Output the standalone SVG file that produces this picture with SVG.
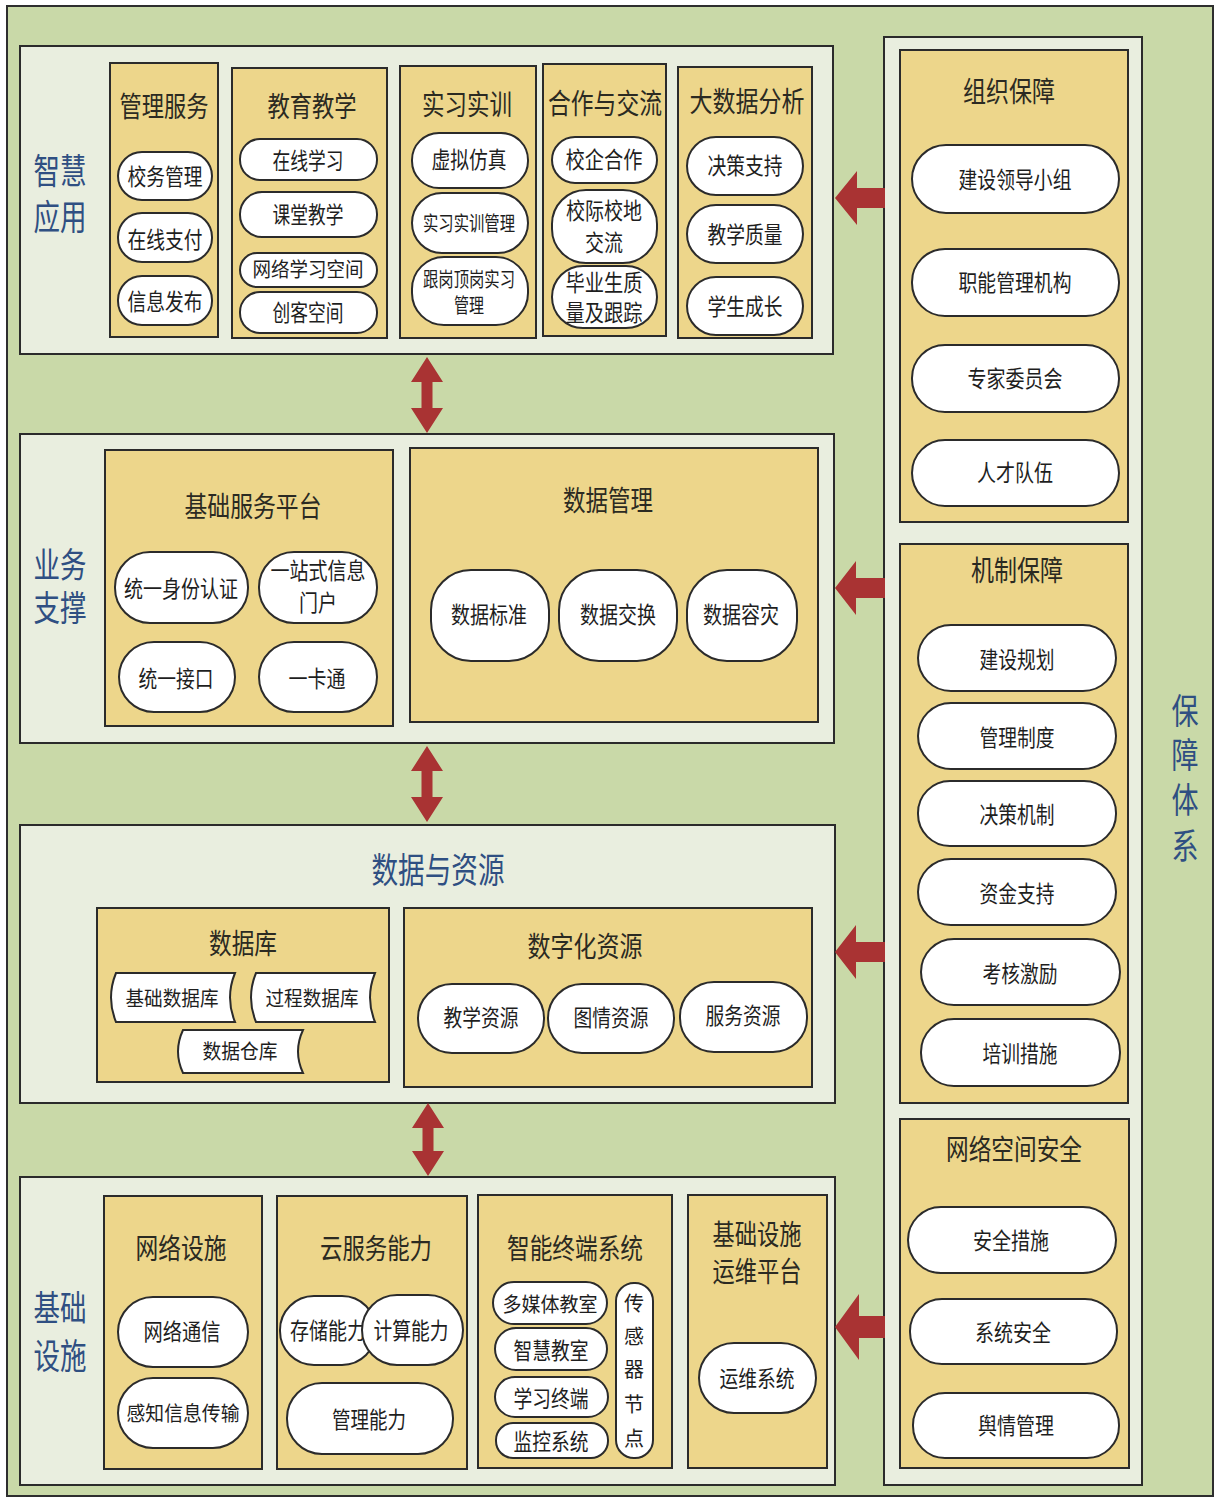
<svg xmlns="http://www.w3.org/2000/svg" width="1215" height="1499" viewBox="0 0 1215 1499">
<style>
.bg{fill:#c9d9a8;stroke:#2e2e2e;stroke-width:2}
.panel{fill:#e9eedf;stroke:#2b2b2b;stroke-width:2}
.box{fill:#edd68b;stroke:#2b2b2b;stroke-width:2}
.pill{fill:#ffffff;stroke:#2b2b2b;stroke-width:2}
text{font-family:"Noto Sans CJK SC","Noto Sans",sans-serif;text-anchor:middle;dominant-baseline:central}
.lbl{fill:#2f4f82;font-size:35px}
.ttl{fill:#2b2a22;font-size:28px}
.t{fill:#1e1e1e;font-size:23px}
.s{fill:#1e1e1e;font-size:20px}
.arr{fill:#a93333}
</style>
<rect class="bg" x="7" y="6" width="1206" height="1490"/>

<!-- 智慧应用 -->
<g id="layer-app">
<rect class="panel" x="20" y="46" width="813" height="308"/>
<text class="lbl" x="60" y="168" textLength="53" lengthAdjust="spacingAndGlyphs">智慧</text>
<text class="lbl" x="60" y="214" textLength="53" lengthAdjust="spacingAndGlyphs">应用</text>
</g>
<g id="mgmt-service">
<rect class="box" x="110" y="63" width="108" height="274"/>
<text class="ttl" x="164" y="105" textLength="89" lengthAdjust="spacingAndGlyphs">管理服务</text>
<rect class="pill" x="118" y="152" width="94" height="48" rx="24"/>
<text class="t" x="165" y="175" textLength="75" lengthAdjust="spacingAndGlyphs">校务管理</text>
<rect class="pill" x="118" y="213" width="94" height="49" rx="24"/>
<text class="t" x="165" y="238" textLength="75" lengthAdjust="spacingAndGlyphs">在线支付</text>
<rect class="pill" x="118" y="276" width="94" height="49" rx="24"/>
<text class="t" x="165" y="300" textLength="75" lengthAdjust="spacingAndGlyphs">信息发布</text>
</g>
<g id="edu-teach">
<rect class="box" x="232" y="68" width="155" height="270"/>
<text class="ttl" x="312" y="105" textLength="89" lengthAdjust="spacingAndGlyphs">教育教学</text>
<rect class="pill" x="240" y="139" width="137" height="41" rx="20"/>
<text class="t" x="308" y="159" textLength="71" lengthAdjust="spacingAndGlyphs">在线学习</text>
<rect class="pill" x="240" y="192" width="137" height="45" rx="22"/>
<text class="t" x="308" y="213" textLength="71" lengthAdjust="spacingAndGlyphs">课堂教学</text>
<rect class="pill" x="240" y="253" width="137" height="34" rx="17"/>
<text class="s" x="308" y="268" textLength="111" lengthAdjust="spacingAndGlyphs">网络学习空间</text>
<rect class="pill" x="240" y="292" width="137" height="41" rx="20"/>
<text class="t" x="308" y="311" textLength="71" lengthAdjust="spacingAndGlyphs">创客空间</text>
</g>
<g id="practice">
<rect class="box" x="400" y="66" width="136" height="272"/>
<text class="ttl" x="467" y="103" textLength="90" lengthAdjust="spacingAndGlyphs">实习实训</text>
<rect class="pill" x="412" y="133" width="116" height="55" rx="27"/>
<text class="t" x="469" y="158" textLength="75" lengthAdjust="spacingAndGlyphs">虚拟仿真</text>
<rect class="pill" x="412" y="193" width="116" height="60" rx="30"/>
<text class="s" x="469" y="222" textLength="92" lengthAdjust="spacingAndGlyphs">实习实训管理</text>
<rect class="pill" x="412" y="257" width="116" height="68" rx="32"/>
<text class="s" x="469" y="278" textLength="92" lengthAdjust="spacingAndGlyphs">跟岗顶岗实习</text>
<text class="s" x="469" y="304" textLength="30" lengthAdjust="spacingAndGlyphs">管理</text>
</g>
<g id="cooperation">
<rect class="box" x="543" y="64" width="123" height="272"/>
<text class="ttl" x="605" y="102" textLength="114" lengthAdjust="spacingAndGlyphs">合作与交流</text>
<rect class="pill" x="552" y="137" width="105" height="46" rx="23"/>
<text class="t" x="604" y="158" textLength="77" lengthAdjust="spacingAndGlyphs">校企合作</text>
<rect class="pill" x="552" y="190" width="105" height="73" rx="34"/>
<text class="t" x="604" y="209" textLength="76" lengthAdjust="spacingAndGlyphs">校际校地</text>
<text class="t" x="604" y="241" textLength="38" lengthAdjust="spacingAndGlyphs">交流</text>
<rect class="pill" x="552" y="266" width="105" height="62" rx="31"/>
<text class="t" x="604" y="281" textLength="77" lengthAdjust="spacingAndGlyphs">毕业生质</text>
<text class="t" x="604" y="311" textLength="77" lengthAdjust="spacingAndGlyphs">量及跟踪</text>
</g>
<g id="bigdata">
<rect class="box" x="678" y="67" width="134" height="271"/>
<text class="ttl" x="747" y="100" textLength="115" lengthAdjust="spacingAndGlyphs">大数据分析</text>
<rect class="pill" x="687" y="137" width="116" height="58" rx="29"/>
<text class="t" x="745" y="164" textLength="75" lengthAdjust="spacingAndGlyphs">决策支持</text>
<rect class="pill" x="687" y="205" width="116" height="58" rx="29"/>
<text class="t" x="745" y="233" textLength="75" lengthAdjust="spacingAndGlyphs">教学质量</text>
<rect class="pill" x="687" y="277" width="116" height="58" rx="29"/>
<text class="t" x="745" y="305" textLength="75" lengthAdjust="spacingAndGlyphs">学生成长</text>
</g>

<!-- 业务支撑 -->
<g id="layer-business">
<rect class="panel" x="20" y="434" width="814" height="309"/>
<text class="lbl" x="60" y="562" textLength="53" lengthAdjust="spacingAndGlyphs">业务</text>
<text class="lbl" x="60" y="605" textLength="53" lengthAdjust="spacingAndGlyphs">支撑</text>
</g>
<g id="basic-service">
<rect class="box" x="105" y="450" width="288" height="276"/>
<text class="ttl" x="253" y="505" textLength="137" lengthAdjust="spacingAndGlyphs">基础服务平台</text>
<rect class="pill" x="115" y="552" width="133" height="71" rx="35"/>
<text class="t" x="181" y="587" textLength="114" lengthAdjust="spacingAndGlyphs">统一身份认证</text>
<rect class="pill" x="259" y="552" width="118" height="71" rx="35"/>
<text class="t" x="318" y="569" textLength="95" lengthAdjust="spacingAndGlyphs">一站式信息</text>
<text class="t" x="318" y="601" textLength="38" lengthAdjust="spacingAndGlyphs">门户</text>
<rect class="pill" x="119" y="642" width="116" height="70" rx="35"/>
<text class="t" x="176" y="677" textLength="75" lengthAdjust="spacingAndGlyphs">统一接口</text>
<rect class="pill" x="259" y="642" width="118" height="70" rx="35"/>
<text class="t" x="317" y="677" textLength="57" lengthAdjust="spacingAndGlyphs">一卡通</text>
</g>
<g id="data-mgmt">
<rect class="box" x="410" y="448" width="408" height="274"/>
<text class="ttl" x="608" y="499" textLength="90" lengthAdjust="spacingAndGlyphs">数据管理</text>
<rect class="pill" x="431" y="570" width="118" height="91" rx="40"/>
<text class="t" x="489" y="613" textLength="76" lengthAdjust="spacingAndGlyphs">数据标准</text>
<rect class="pill" x="559" y="570" width="118" height="91" rx="40"/>
<text class="t" x="618" y="613" textLength="76" lengthAdjust="spacingAndGlyphs">数据交换</text>
<rect class="pill" x="687" y="570" width="110" height="91" rx="40"/>
<text class="t" x="741" y="613" textLength="76" lengthAdjust="spacingAndGlyphs">数据容灾</text>
</g>

<!-- 数据与资源 -->
<g id="layer-data">
<rect class="panel" x="20" y="825" width="815" height="278"/>
<text class="lbl" x="438" y="867" textLength="133" lengthAdjust="spacingAndGlyphs">数据与资源</text>
</g>
<g id="database">
<rect class="box" x="97" y="908" width="292" height="174"/>
<text class="ttl" x="243" y="942" textLength="68" lengthAdjust="spacingAndGlyphs">数据库</text>
<path class="pill" d="M116 973 L235 973 Q225 997.5 235 1022 L116 1022 Q106 997.5 116 973 Z"/>
<text class="s" x="172" y="997" textLength="93" lengthAdjust="spacingAndGlyphs">基础数据库</text>
<path class="pill" d="M256 973 L375 973 Q365 997.5 375 1022 L256 1022 Q246 997.5 256 973 Z"/>
<text class="s" x="312" y="997" textLength="93" lengthAdjust="spacingAndGlyphs">过程数据库</text>
<path class="pill" d="M183 1030 L303 1030 Q293 1051.5 303 1073 L183 1073 Q173 1051.5 183 1030 Z"/>
<text class="s" x="240" y="1050" textLength="75" lengthAdjust="spacingAndGlyphs">数据仓库</text>
</g>
<g id="digital-resource">
<rect class="box" x="404" y="908" width="408" height="179"/>
<text class="ttl" x="585" y="945" textLength="115" lengthAdjust="spacingAndGlyphs">数字化资源</text>
<rect class="pill" x="418" y="984" width="126" height="69" rx="34"/>
<text class="t" x="481" y="1016" textLength="75" lengthAdjust="spacingAndGlyphs">教学资源</text>
<rect class="pill" x="548" y="984" width="126" height="69" rx="34"/>
<text class="t" x="611" y="1016" textLength="75" lengthAdjust="spacingAndGlyphs">图情资源</text>
<rect class="pill" x="680" y="982" width="127" height="70" rx="34"/>
<text class="t" x="743" y="1014" textLength="75" lengthAdjust="spacingAndGlyphs">服务资源</text>
</g>

<!-- 基础设施 -->
<g id="layer-infra">
<rect class="panel" x="20" y="1177" width="815" height="308"/>
<text class="lbl" x="60" y="1305" textLength="53" lengthAdjust="spacingAndGlyphs">基础</text>
<text class="lbl" x="60" y="1353" textLength="53" lengthAdjust="spacingAndGlyphs">设施</text>
</g>
<g id="network">
<rect class="box" x="104" y="1196" width="158" height="273"/>
<text class="ttl" x="181" y="1247" textLength="91" lengthAdjust="spacingAndGlyphs">网络设施</text>
<rect class="pill" x="118" y="1297" width="130" height="70" rx="35"/>
<text class="t" x="182" y="1330" textLength="77" lengthAdjust="spacingAndGlyphs">网络通信</text>
<rect class="pill" x="118" y="1378" width="130" height="70" rx="35"/>
<text class="s" x="183" y="1412" textLength="113" lengthAdjust="spacingAndGlyphs">感知信息传输</text>
</g>
<g id="cloud">
<rect class="box" x="277" y="1196" width="190" height="273"/>
<text class="ttl" x="376" y="1247" textLength="112" lengthAdjust="spacingAndGlyphs">云服务能力</text>
<rect class="pill" x="280" y="1296" width="96" height="69" rx="34"/>
<text class="t" x="328" y="1329" textLength="76" lengthAdjust="spacingAndGlyphs">存储能力</text>
<rect class="pill" x="362" y="1295" width="101" height="70" rx="35"/>
<text class="t" x="411" y="1329" textLength="75" lengthAdjust="spacingAndGlyphs">计算能力</text>
<rect class="pill" x="287" y="1383" width="166" height="71" rx="35"/>
<text class="t" x="369" y="1418" textLength="74" lengthAdjust="spacingAndGlyphs">管理能力</text>
</g>
<g id="terminal">
<rect class="box" x="478" y="1195" width="194" height="273"/>
<text class="ttl" x="575" y="1247" textLength="136" lengthAdjust="spacingAndGlyphs">智能终端系统</text>
<rect class="pill" x="493" y="1282" width="114" height="42" rx="21"/>
<text class="s" x="550" y="1303" textLength="95" lengthAdjust="spacingAndGlyphs">多媒体教室</text>
<rect class="pill" x="495" y="1328" width="112" height="42" rx="21"/>
<text class="t" x="551" y="1349" textLength="75" lengthAdjust="spacingAndGlyphs">智慧教室</text>
<rect class="pill" x="495" y="1377" width="113" height="40" rx="20"/>
<text class="t" x="551" y="1397" textLength="75" lengthAdjust="spacingAndGlyphs">学习终端</text>
<rect class="pill" x="496" y="1423" width="112" height="35" rx="17"/>
<text class="t" x="551" y="1440" textLength="75" lengthAdjust="spacingAndGlyphs">监控系统</text>
<rect class="pill" x="616" y="1283" width="37" height="175" rx="18"/>
<text class="s" x="634" y="1302">传</text>
<text class="s" x="634" y="1335">感</text>
<text class="s" x="634" y="1368">器</text>
<text class="s" x="634" y="1403">节</text>
<text class="s" x="634" y="1437">点</text>
</g>
<g id="ops-platform">
<rect class="box" x="688" y="1195" width="139" height="273"/>
<text class="ttl" x="757" y="1233" textLength="89" lengthAdjust="spacingAndGlyphs">基础设施</text>
<text class="ttl" x="757" y="1270" textLength="89" lengthAdjust="spacingAndGlyphs">运维平台</text>
<rect class="pill" x="699" y="1343" width="117" height="70" rx="35"/>
<text class="t" x="757" y="1377" textLength="75" lengthAdjust="spacingAndGlyphs">运维系统</text>
</g>

<!-- 保障体系 -->
<g id="guarantee">
<rect class="panel" x="884" y="37" width="258" height="1448"/>
<text class="lbl" x="1185" y="708" textLength="27" lengthAdjust="spacingAndGlyphs">保</text>
<text class="lbl" x="1185" y="752" textLength="27" lengthAdjust="spacingAndGlyphs">障</text>
<text class="lbl" x="1185" y="797" textLength="27" lengthAdjust="spacingAndGlyphs">体</text>
<text class="lbl" x="1185" y="843" textLength="27" lengthAdjust="spacingAndGlyphs">系</text>
</g>
<g id="org-guarantee">
<rect class="box" x="900" y="50" width="228" height="472"/>
<text class="ttl" x="1009" y="90" textLength="92" lengthAdjust="spacingAndGlyphs">组织保障</text>
<rect class="pill" x="912" y="145" width="207" height="68" rx="34"/>
<text class="t" x="1015" y="178" textLength="113" lengthAdjust="spacingAndGlyphs">建设领导小组</text>
<rect class="pill" x="912" y="249" width="207" height="67" rx="33"/>
<text class="t" x="1015" y="281" textLength="113" lengthAdjust="spacingAndGlyphs">职能管理机构</text>
<rect class="pill" x="912" y="345" width="207" height="67" rx="33"/>
<text class="t" x="1015" y="377" textLength="95" lengthAdjust="spacingAndGlyphs">专家委员会</text>
<rect class="pill" x="912" y="440" width="207" height="66" rx="33"/>
<text class="t" x="1015" y="471" textLength="76" lengthAdjust="spacingAndGlyphs">人才队伍</text>
</g>
<g id="mech-guarantee">
<rect class="box" x="900" y="544" width="228" height="559"/>
<text class="ttl" x="1017" y="569" textLength="92" lengthAdjust="spacingAndGlyphs">机制保障</text>
<rect class="pill" x="918" y="625" width="198" height="66" rx="33"/>
<text class="t" x="1017" y="658" textLength="75" lengthAdjust="spacingAndGlyphs">建设规划</text>
<rect class="pill" x="918" y="703" width="198" height="66" rx="33"/>
<text class="t" x="1017" y="736" textLength="75" lengthAdjust="spacingAndGlyphs">管理制度</text>
<rect class="pill" x="918" y="781" width="198" height="65" rx="32"/>
<text class="t" x="1017" y="813" textLength="75" lengthAdjust="spacingAndGlyphs">决策机制</text>
<rect class="pill" x="918" y="859" width="198" height="66" rx="33"/>
<text class="t" x="1017" y="892" textLength="75" lengthAdjust="spacingAndGlyphs">资金支持</text>
<rect class="pill" x="921" y="939" width="199" height="66" rx="33"/>
<text class="t" x="1020" y="972" textLength="75" lengthAdjust="spacingAndGlyphs">考核激励</text>
<rect class="pill" x="921" y="1019" width="199" height="67" rx="33"/>
<text class="t" x="1020" y="1052" textLength="75" lengthAdjust="spacingAndGlyphs">培训措施</text>
</g>
<g id="cyber-security">
<rect class="box" x="900" y="1119" width="229" height="349"/>
<text class="ttl" x="1014" y="1148" textLength="136" lengthAdjust="spacingAndGlyphs">网络空间安全</text>
<rect class="pill" x="908" y="1207" width="208" height="66" rx="33"/>
<text class="t" x="1011" y="1239" textLength="76" lengthAdjust="spacingAndGlyphs">安全措施</text>
<rect class="pill" x="910" y="1299" width="207" height="65" rx="32"/>
<text class="t" x="1013" y="1331" textLength="76" lengthAdjust="spacingAndGlyphs">系统安全</text>
<rect class="pill" x="913" y="1393" width="206" height="65" rx="32"/>
<text class="t" x="1016" y="1424" textLength="76" lengthAdjust="spacingAndGlyphs">舆情管理</text>
</g>

<!-- connectors -->
<g id="connectors">
<path class="arr" d="M427 357 L443 382 L432.5 382 L432.5 408 L443 408 L427 433 L411 408 L421.5 408 L421.5 382 L411 382 Z"/>
<path class="arr" d="M427 746 L443 771 L432.5 771 L432.5 797 L443 797 L427 822 L411 797 L421.5 797 L421.5 771 L411 771 Z"/>
<path class="arr" d="M428 1103 L444 1128 L433.5 1128 L433.5 1151 L444 1151 L428 1176 L412 1151 L422.5 1151 L422.5 1128 L412 1128 Z"/>
<path class="arr" d="M835 198 L857 171 L857 188 L885 188 L885 208 L857 208 L857 225 Z"/>
<path class="arr" d="M835 588 L856 561 L856 578 L885 578 L885 598 L856 598 L856 615 Z"/>
<path class="arr" d="M835 952 L856 925 L856 942 L885 942 L885 962 L856 962 L856 979 Z"/>
<path class="arr" d="M835 1327 L859 1294 L859 1316 L885 1316 L885 1338 L859 1338 L859 1360 Z"/>
</g>
</svg>
